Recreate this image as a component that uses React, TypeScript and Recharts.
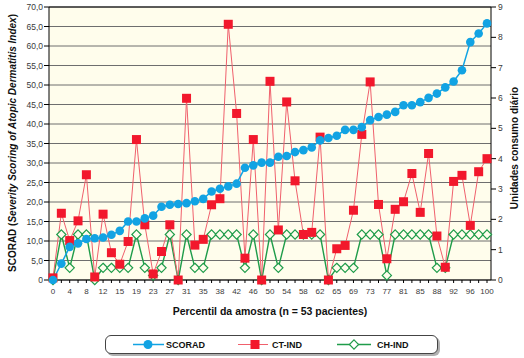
import { LineChart, Line, XAxis, YAxis, CartesianGrid, ReferenceLine, Label } from 'recharts';

// percentil of each patient (n = 53), sorted by SCORAD
const percentis = [
  0, 2, 4, 6, 8, 10, 12, 13, 15, 17, 19, 21, 23, 25, 27, 29, 31, 33, 35, 37, 38, 40, 42, 44, 46, 48,
  50, 52, 54, 56, 58, 60, 62, 63, 65, 67, 69, 71, 73, 75, 77, 79, 81, 83, 85, 87, 88, 90, 92, 94, 96, 98, 100,
];

const scorad = [
  0, 4.2, 8.5, 9.4, 10.5, 10.7, 10.9, 11.6, 12.6, 15.0, 15.0, 15.8, 16.5, 18.8, 19.3, 19.5, 19.7, 20.2,
  20.8, 22.7, 23.4, 24.0, 24.7, 28.8, 29.4, 30.1, 30.1, 31.6, 31.8, 32.8, 33.3, 34.0, 35.8, 36.4, 37.0,
  38.5, 38.5, 39.2, 41.0, 41.8, 42.4, 43.1, 44.8, 44.8, 45.6, 46.7, 47.8, 49.4, 50.9, 53.8, 61.0, 63.2, 65.8,
];

const ctInd = [
  0.07, 2.2, 1.3, 1.95, 3.47, 0.1, 2.17, 0.9, 0.52, 1.27, 4.63, 1.82, 0.2, 0.94, 1.82, 0, 5.99, 1.15,
  1.34, 2.48, 2.68, 8.43, 5.49, 0.72, 4.63, 0, 6.55, 1.65, 5.87, 3.27, 1.5, 1.57, 4.71, 0, 1.03, 1.14,
  2.3, 4.8, 6.53, 2.49, 0.7, 2.33, 2.58, 3.51, 2.23, 4.17, 1.45, 0.42, 3.25, 3.45, 1.8, 3.57, 4.0,
];

const chInd = [
  0, 1.5, 0.4, 1.5, 1.5, 0, 0.4, 0.4, 0.4, 0.4, 1.5, 0.4, 0.15, 0.4, 1.5, 0, 1.5, 0.4, 0.4, 1.5, 1.5,
  1.5, 1.5, 0.4, 1.5, 0, 1.5, 0.4, 1.5, 1.5, 1.5, 1.5, 1.5, 0, 0.4, 0.4, 0.4, 1.5, 1.5, 1.5, 0.15, 1.5,
  1.5, 1.5, 1.5, 1.5, 0.4, 0.4, 1.5, 1.5, 1.5, 1.5, 1.5,
];

const leftTicks = [0, 5, 10, 15, 20, 25, 30, 35, 40, 45, 50, 55, 60, 65, 70];
const rightTicks = [0, 1, 2, 3, 4, 5, 6, 7, 8, 9];

const data = percentis.map((p, i) => ({
  pct: String(p),
  scorad: scorad[i],
  ct: ctInd[i],
  ch: chInd[i],
}));

const FONT = '"Liberation Sans", Arial, sans-serif';
const BLUE = '#12a3e3';
const RED = '#f2182c';
const RED_LINE = '#f0606c';
const GREEN = '#1f9c4a';
const PLOT_BG = '#fffdec';

const SquareDot = (props: any) => {
  const { cx, cy, index } = props;
  if (cx == null || cy == null) return null;
  return <rect key={`ct-${index}`} x={cx - 4.5} y={cy - 4.5} width={9} height={9} fill={RED} />;
};

const DiamondDot = (props: any) => {
  const { cx, cy, index } = props;
  if (cx == null || cy == null) return null;
  const s = 4.6;
  return (
    <polygon
      key={`ch-${index}`}
      points={`${cx},${cy - s} ${cx + s},${cy} ${cx},${cy + s} ${cx - s},${cy}`}
      fill={PLOT_BG}
      stroke={GREEN}
      strokeWidth={1.2}
    />
  );
};

const tickStyle = { fontSize: 8.5, fill: '#3a3a3a', fontFamily: FONT };

function ChartLegend() {
  const y = 344.5;
  const txt = { fontSize: 9, fontWeight: 'bold' as const, fontFamily: FONT, fill: '#111' };
  return (
    <div
      style={{
        position: 'absolute',
        left: 105,
        top: 335,
        width: 331,
        height: 17,
        border: '1px solid #444',
        borderRadius: 6,
        boxShadow: '2px 2px 0 #b0b0b0',
        background: '#fff',
      }}
    >
      <svg width={524} height={358} style={{ position: 'absolute', left: -106, top: -336, overflow: 'visible' }}>
        <line x1={133} y1={y} x2={164} y2={y} stroke={BLUE} strokeWidth={1.5} />
        <circle cx={148} cy={y} r={4.5} fill={BLUE} />
        <text x={166} y={y + 3.3} {...txt}>SCORAD</text>

        <line x1={238} y1={y} x2={268} y2={y} stroke={RED_LINE} strokeWidth={1} />
        <rect x={250.5} y={y - 4.5} width={9} height={9} fill={RED} />
        <text x={272} y={y + 3.3} {...txt}>CT-IND</text>

        <line x1={337} y1={y} x2={371} y2={y} stroke={GREEN} strokeWidth={1.5} />
        <polygon
          points={`354,${y - 4.6} 358.6,${y} 354,${y + 4.6} 349.4,${y}`}
          fill="#fff"
          stroke={GREEN}
          strokeWidth={1.2}
        />
        <text x={377} y={y + 3.3} {...txt}>CH-IND</text>
      </svg>
    </div>
  );
}

export default function App() {
  return (
    <div style={{ position: 'absolute', left: 0, top: 0, width: 524, height: 358, background: '#fff' }}>
      <LineChart width={524} height={358} data={data} margin={{ top: 7, right: 0, bottom: 0, left: 0 }}>
        <CartesianGrid
          yAxisId="left"
          vertical={false}
          stroke="#6e6e6e"
          strokeWidth={1}
          fill={PLOT_BG}
          fillOpacity={1}
        />
        <XAxis
          dataKey="pct"
          interval={0}
          height={78}
          padding={{ left: 4, right: 4 }}
          tickFormatter={(v: string, i: number) => (i % 2 === 0 ? v : '')}
          tick={{ ...tickStyle, fontSize: 8 }}
          tickSize={3}
          tickMargin={5}
          axisLine={{ stroke: '#000' }}
          tickLine={{ stroke: '#000' }}
        >
          <Label
            content={() => (
              <text x={270} y={315} textAnchor="middle" fontSize={10.5} fontWeight="bold" fontFamily={FONT} fill="#111">
                Percentil da amostra (n = 53 pacientes)
              </text>
            )}
          />
        </XAxis>
        <YAxis
          yAxisId="left"
          domain={[0, 70]}
          ticks={leftTicks}
          interval={0}
          width={49}
          tickFormatter={(v: number) => (v === 0 ? '0' : v.toFixed(1).replace('.', ','))}
          tick={tickStyle}
          tickSize={5}
          tickMargin={1}
          axisLine={{ stroke: '#000' }}
          tickLine={{ stroke: '#000' }}
        >
          <Label
            content={() => (
              <text
                transform="translate(15.5,143) rotate(-90)"
                textAnchor="middle"
                fontSize={10}
                fontWeight="bold"
                fontFamily={FONT}
                fill="#111"
              >
                <tspan>SCORAD (</tspan>
                <tspan fontStyle="italic">Severity Scoring of Atopic Dermatitis Index</tspan>
                <tspan>)</tspan>
              </text>
            )}
          />
        </YAxis>
        <YAxis
          yAxisId="right"
          orientation="right"
          domain={[0, 9]}
          ticks={rightTicks}
          interval={0}
          width={33}
          tick={tickStyle}
          tickSize={5}
          tickMargin={2}
          axisLine={{ stroke: '#000' }}
          tickLine={{ stroke: '#000' }}
        >
          <Label
            content={() => (
              <text
                transform="translate(518,148) rotate(-90)"
                textAnchor="middle"
                fontSize={10}
                fontWeight="bold"
                fontFamily={FONT}
                fill="#111"
              >
                Unidades consumo diário
              </text>
            )}
          />
        </YAxis>
        <ReferenceLine yAxisId="left" y={70} stroke="#000" strokeWidth={1.2} />

        <Line
          yAxisId="right"
          type="linear"
          dataKey="ch"
          stroke={GREEN}
          strokeWidth={1.4}
          dot={DiamondDot}
          activeDot={false}
          isAnimationActive={false}
        />
        <Line
          yAxisId="right"
          type="linear"
          dataKey="ct"
          stroke={RED_LINE}
          strokeWidth={1}
          dot={SquareDot}
          activeDot={false}
          isAnimationActive={false}
        />
        <Line
          yAxisId="left"
          type="linear"
          dataKey="scorad"
          stroke={BLUE}
          strokeWidth={1.5}
          dot={{ r: 4.3, fill: BLUE, stroke: BLUE, strokeWidth: 0 }}
          activeDot={false}
          isAnimationActive={false}
        />
      </LineChart>
      <ChartLegend />
    </div>
  );
}
